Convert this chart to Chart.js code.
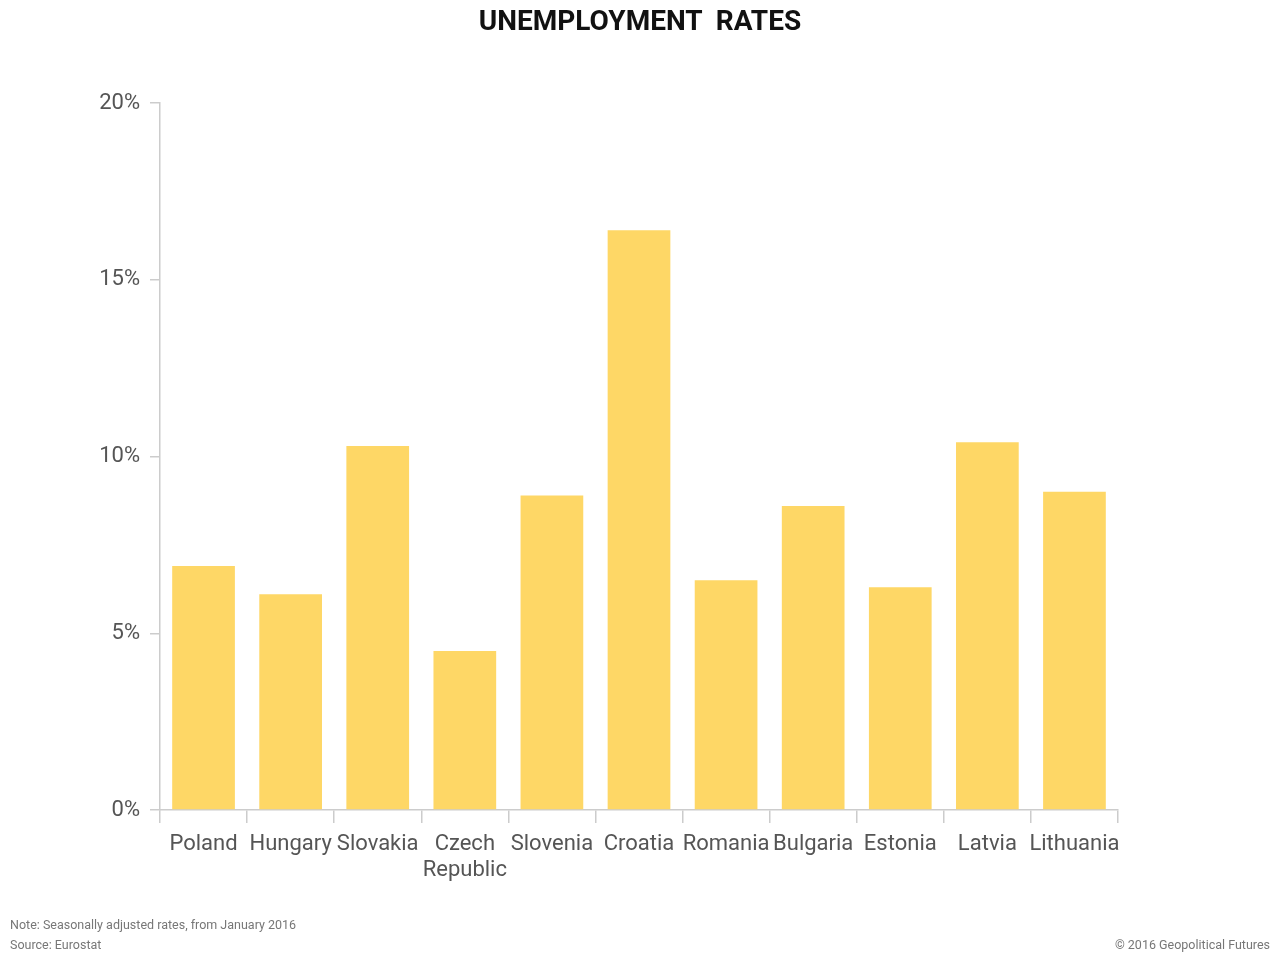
<!DOCTYPE html>
<html>
<head>
<meta charset="utf-8">
<script src="https://cdn.jsdelivr.net/npm/chart.js@4"></script>
<style>
  body { margin: 0; background: #fff; font-family: Roboto, sans-serif; }
  #wrap { position: relative; width: 1280px; height: 960px; }
  #title { position: absolute; top: 4px; left: 0; width: 1280px; text-align: center;
           font-weight: bold; font-size: 28px; color: #111; white-space: pre; }
  .foot { position: absolute; font-size: 12.5px; color: #777; }
  canvas { position: absolute; left: 0; top: 0; }
</style>
</head>
<body>
<div id="wrap">
  <canvas id="chart" width="1280" height="960"></canvas>
  <div id="title">UNEMPLOYMENT  RATES</div>
  <div class="foot" style="left:10px; top:917px;">Note: Seasonally adjusted rates, from January 2016</div>
  <div class="foot" style="left:10px; top:937px;">Source: Eurostat</div>
  <div class="foot" style="right:10px; top:937px;">© 2016 Geopolitical Futures</div>
</div>
<script>
// Data
const countries = ["Poland", "Hungary", "Slovakia", ["Czech", "Republic"], "Slovenia", "Croatia",
  "Romania", "Bulgaria", "Estonia", "Latvia", "Lithuania"]
const rates = [6.9, 6.1, 10.3, 4.5, 8.9, 16.4, 6.5, 8.6, 6.3, 10.4, 9.0]
const yTicks = [0, 5, 10, 15, 20]

const ctx = document.querySelector('#chart').getContext("2d")

const chart = new Chart(ctx, {
  type: "bar",
  data: {
    labels: countries,
    datasets: [{
      data: rates,
      backgroundColor: "#FED766",
      categoryPercentage: 0.72,
      barPercentage: 1.0
    }]
  },
  options: {
    responsive: false,
    animation: false,
    layout: {
      padding: { left: 0, right: 162, top: 103, bottom: 0 }
    },
    plugins: {
      legend: { display: false },
      tooltip: { enabled: false }
    },
    scales: {
      x: {
        afterFit: (axis) => { axis.height = 150 },
        border: { color: "#cccccc", width: 1.5 },
        grid: {
          offset: true,
          drawOnChartArea: false,
          color: "#cccccc",
          tickLength: 13,
          lineWidth: 1.5
        },
        ticks: {
          color: "#555555",
          font: { family: "Roboto", size: 22 },
          padding: 8,
          maxRotation: 0,
          autoSkip: false
        }
      },
      y: {
        min: 0,
        max: 20,
        afterFit: (axis) => { axis.width = 160 },
        afterBuildTicks: (axis) => { axis.ticks = yTicks.map(v => ({ value: v })) },
        border: { color: "#cccccc", width: 1.5 },
        grid: {
          drawOnChartArea: false,
          color: "#cccccc",
          tickLength: 10,
          lineWidth: 1.5
        },
        ticks: {
          color: "#555555",
          font: { family: "Roboto", size: 22 },
          padding: 10,
          callback: (value) => `${value}%`
        }
      }
    }
  }
})
</script>
</body>
</html>
